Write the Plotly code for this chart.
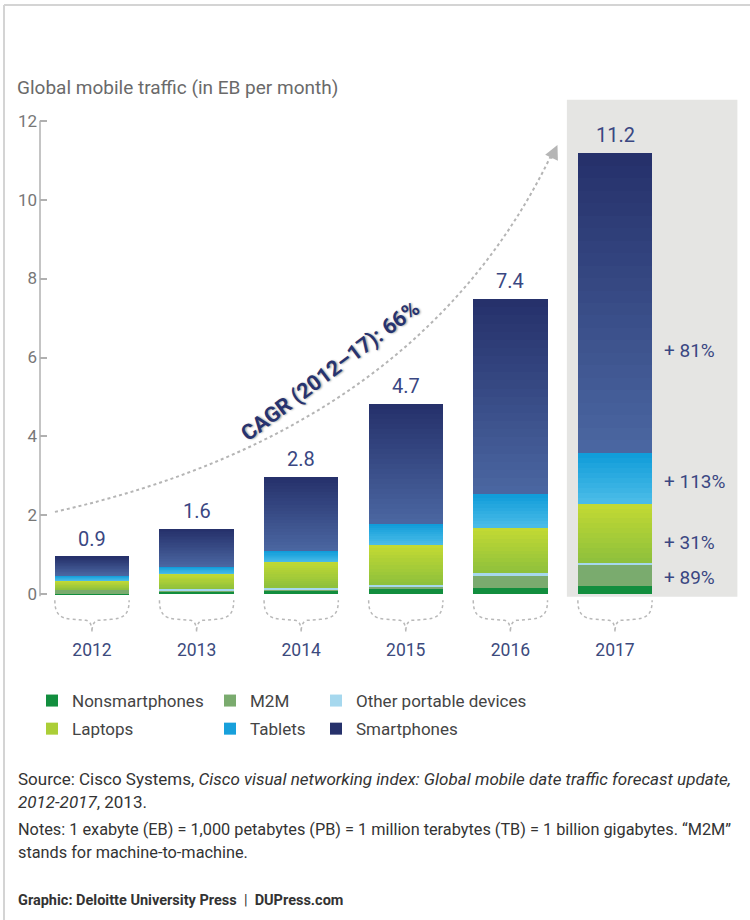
import plotly.graph_objects as go

# ---------------- data ----------------
years = ["2012", "2013", "2014", "2015", "2016", "2017"]
nonsmartphones = [0.01, 0.06, 0.09, 0.13, 0.17, 0.21]
m2m = [0.12, 0.04, 0.04, 0.08, 0.31, 0.53]
other_portable = [0.00, 0.04, 0.04, 0.02, 0.05, 0.06]
laptops = [0.22, 0.39, 0.67, 1.02, 1.16, 1.50]
tablets = [0.14, 0.18, 0.26, 0.54, 0.84, 1.29]
smartphones = [0.46, 0.95, 1.88, 3.02, 4.95, 7.58]
total_labels = ["0.9", "1.6", "2.8", "4.7", "7.4", "11.2"]
growth_labels = ["+ 81%", "+ 113%", "+ 31%", "+ 89%"]
y_ticks = [0, 2, 4, 6, 8, 10, 12]

FONT = "Roboto, 'Open Sans', sans-serif"
NAVY = "#3a4782"

# ---------------- geometry helpers ----------------
L, R, T, B = 40, 10, 93, 283
W, H = 750, 920
PW, PH = W - L - R, H - T - B
XR = [-0.497, 6.195]
YR = [-1.08, 12.7]


def pxx(x):
    return (x - L) / PW


def pxy(y):
    return (T + PH - y) / PH


def dx(px):  # pixel width -> data x units
    return px * (XR[1] - XR[0]) / PW


def dy(py):  # pixel height -> data y units
    return py * (YR[1] - YR[0]) / PH


def lerp(c1, c2, t):
    a = [int(c1[i:i + 2], 16) for i in (1, 3, 5)]
    b = [int(c2[i:i + 2], 16) for i in (1, 3, 5)]
    return "#" + "".join(f"{round(a[k] + (b[k] - a[k]) * t):02x}" for k in range(3))


xs = list(range(len(years)))
BW = 0.71

fig = go.Figure()


def add_solid(name, vals, color, legend):
    fig.add_trace(go.Bar(x=xs, y=vals, name=name, marker=dict(color=color, line=dict(width=0)),
                         width=BW, legend=legend, legendgroup=name, hoverinfo="name+y"))


def add_gradient(name, vals, top, bottom, n, legend, legend_slice):
    for k in range(n):  # k=0 is the bottom slice
        t = 1 - (k + 0.5) / n  # 1 at bottom, 0 at top
        col = lerp(top, bottom, t)
        fig.add_trace(go.Bar(
            x=xs, y=[v / n for v in vals], name=name,
            marker=dict(color=col, line=dict(width=0)), width=BW,
            legend=legend, legendgroup=name, showlegend=(k == legend_slice),
            hoverinfo="skip" if k != legend_slice else "name"))


add_solid("Nonsmartphones", nonsmartphones, "#128e3e", "legend")
add_solid("M2M", m2m, "#7aab6e", "legend2")
add_solid("Other portable devices", other_portable, "#a6d8ee", "legend3")
add_gradient("Laptops", laptops, "#c4da33", "#8dc03c", 12, "legend", 6)
add_gradient("Tablets", tablets, "#0e9bd9", "#4cbde8", 10, "legend2", 8)
add_gradient("Smartphones", smartphones, "#25306a", "#4b67a2", 24, "legend3", 23)

totals = [a + b + c + d + e + f for a, b, c, d, e, f in
          zip(nonsmartphones, m2m, other_portable, laptops, tablets, smartphones)]

shapes = []
annotations = []

# grey highlight box behind 2017
shapes.append(dict(type="rect", xref="x", yref="y", x0=4.54, x1=6.17, y0=-dy(2.5), y1=12.53,
                   fillcolor="#e5e5e3", line=dict(width=0), layer="below"))

# y axis line
shapes.append(dict(type="line", xref="paper", yref="y", x0=0, x1=0, y0=-dy(2), y1=12,
                   line=dict(color="#b0b0b0", width=1.5)))

# braces below bars
for i in xs:
    Lx, Rx, c = i - BW / 2, i + BW / 2, i

    def P(xd, py):
        return f"{xd:.4f},{-dy(py):.4f}"
    path = (f"M{P(Lx, 6)} C{P(Lx, 20)} {P(Lx + dx(5), 24)} {P(Lx + dx(18), 25)} "
            f"L{P(c - dx(6), 26)} Q{P(c, 27)} {P(c, 38)} Q{P(c, 27)} {P(c + dx(6), 26)} "
            f"L{P(Rx - dx(18), 25)} C{P(Rx - dx(5), 24)} {P(Rx, 20)} {P(Rx, 6)}")
    shapes.append(dict(type="path", xref="x", yref="y", path=path,
                       line=dict(color="#b8b8b8", width=1.5, dash="dot")))

# CAGR dotted curve
shapes.append(dict(type="path", xref="x", yref="y",
                   path="M-0.354,2.09 Q3.136,4.16 4.40,11.18",
                   line=dict(color="#b5b5b5", width=2, dash="dot")))
annotations.append(dict(x=4.45, y=11.38, xref="x", yref="y", text="", showarrow=True,
                        ax=-7, ay=15, arrowhead=2, arrowsize=1.4, arrowwidth=2,
                        arrowcolor="#b5b5b5"))
annotations.append(dict(x=2.28, y=5.66, xref="x", yref="y", text="<b>CAGR (2012–17): 66%</b>",
                        showarrow=False, textangle=-37,
                        font=dict(family=FONT, size=21.5, color="#27336f",
                                  shadow="1px 1px 2px rgba(0,0,0,0.35)")))

# totals above bars
for i, (tv, lab) in enumerate(zip(totals, total_labels)):
    annotations.append(dict(x=i, y=tv, xref="x", yref="y", text=lab, showarrow=False,
                            yanchor="bottom", yshift=4,
                            font=dict(family=FONT, size=20, color=NAVY)))

# growth labels beside 2017
for lab, yv in zip(growth_labels, [6.19, 2.85, 1.31, 0.42]):
    annotations.append(dict(x=5.45, y=yv, xref="x", yref="y", text=lab, showarrow=False,
                            xanchor="left", font=dict(family=FONT, size=19, color=NAVY)))

# title
annotations.append(dict(x=pxx(15), y=pxy(88), xref="paper", yref="paper", xanchor="left",
                        yanchor="middle", showarrow=False,
                        text="Global mobile traffic (in EB per month)",
                        font=dict(family=FONT, size=19, color="#6a6a6a")))

# footnotes
foot = [
    (779, "Source: Cisco Systems, <i>Cisco visual networking index: Global mobile date traffic forecast update,</i>", 17),
    (802, "<i>2012-2017</i>, 2013.", 17),
    (829, "Notes: 1 exabyte (EB) = 1,000 petabytes (PB) = 1 million terabytes (TB) = 1 billion gigabytes. “M2M”", 16.3),
    (852, "stands for machine-to-machine.", 16.3),
    (900, "<b>Graphic: Deloitte University Press</b>  |  <b>DUPress.com</b>", 14.5),
]
for yp, txt, sz in foot:
    annotations.append(dict(x=pxx(16), y=pxy(yp), xref="paper", yref="paper", xanchor="left",
                            yanchor="middle", showarrow=False, text=txt,
                            font=dict(family=FONT, size=sz, color="#333333")))

# frame lines
shapes.append(dict(type="line", xref="paper", yref="paper", x0=pxx(4), x1=pxx(800),
                   y0=pxy(5), y1=pxy(5), line=dict(color="#d4d4d4", width=2)))
shapes.append(dict(type="line", xref="paper", yref="paper", x0=pxx(4), x1=pxx(4),
                   y0=pxy(5), y1=pxy(960), line=dict(color="#d4d4d4", width=2)))

leg_common = dict(orientation="v", xanchor="left", yanchor="top", traceorder="grouped",
                  bgcolor="rgba(0,0,0,0)", font=dict(family=FONT, size=17, color="#444444"),
                  itemwidth=30, tracegroupgap=3, itemclick=False, itemdoubleclick=False)

fig.update_layout(
    width=W, height=H,
    margin=dict(l=L, r=R, t=T, b=B),
    paper_bgcolor="white", plot_bgcolor="white",
    barmode="stack", bargap=0,
    showlegend=True,
    legend=dict(x=pxx(32), y=pxy(683), **leg_common),
    legend2=dict(x=pxx(210), y=pxy(683), **leg_common),
    legend3=dict(x=pxx(316), y=pxy(683), **leg_common),
    xaxis=dict(range=XR, tickvals=xs, ticktext=years, showgrid=False, zeroline=False,
               showline=False, ticks="", ticklabelstandoff=0,
               tickfont=dict(family=FONT, size=17.5, color="#3c4a7d"), fixedrange=True),
    yaxis=dict(range=YR, tickvals=y_ticks, showgrid=False, zeroline=False, showline=False,
               ticks="inside", ticklen=7, tickwidth=1.5, tickcolor="#b0b0b0",
               ticklabelstandoff=2,
               tickfont=dict(family=FONT, size=17, color="#777777"), fixedrange=True),
    shapes=shapes,
    annotations=annotations,
    font=dict(family=FONT),
)

fig.write_html("out.html", config={"displayModeBar": False},
               post_script="document.body.style.margin='0';document.body.style.overflow='hidden';")
